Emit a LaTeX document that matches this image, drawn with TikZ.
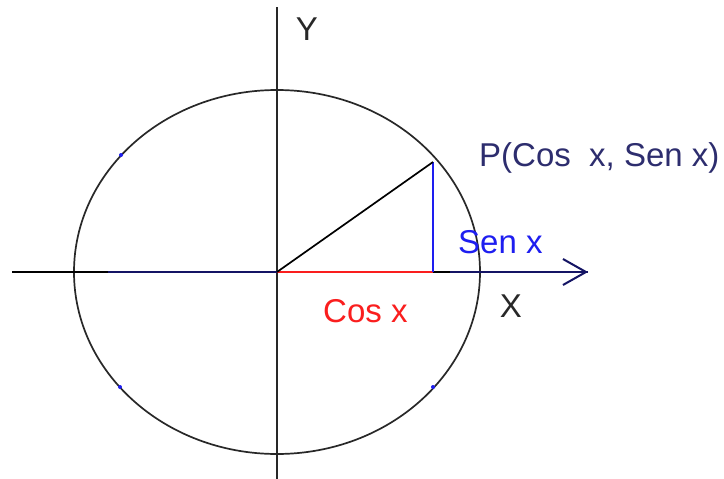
\documentclass[tikz,border=0pt]{standalone}
\usepackage{fontspec}
\setmainfont{Liberation Sans}
\usetikzlibrary{arrows.meta}
\definecolor{navy}{RGB}{20,20,100}
\definecolor{ptext}{RGB}{45,45,110}
\definecolor{axgray}{RGB}{40,40,40}
\definecolor{lblue}{RGB}{30,30,240}
\definecolor{lred}{RGB}{250,30,30}
\begin{document}
\begin{tikzpicture}[x=1pt,y=-1pt,
  axis/.style={line width=2pt,axgray},
  curve/.style={line width=1.7pt,axgray},
  lbl/.style={font=\fontsize{33}{36}\selectfont,inner sep=0pt,anchor=base west},
  mark dot/.style={fill=lblue,circle,inner sep=0pt,minimum size=4pt}]
\useasboundingbox (0,0) rectangle (724,479);
\fill[white] (0,0) rectangle (724,479);
% key points
\coordinate (O) at (277,272);
\coordinate (P) at (433,162);
\coordinate (F) at (433,272);
\coordinate (L) at (12,272);
\coordinate (Lm) at (108,272);
\coordinate (Rm) at (450,272);
\coordinate (R) at (588,272);
\coordinate (T) at (277,7);
\coordinate (B) at (277,479);
% ellipse
\draw[curve] (O) ellipse [x radius=203, y radius=182];
% vertical axis
\draw[axis] (T) -- (B);
% horizontal axis
\draw[axis,black] (L) -- (Lm);
\draw[axis,navy] (Lm) -- (O);
\draw[axis,black] (F) -- (Rm);
\draw[axis,navy] (Rm) -- (R);
\draw[line width=2pt,navy,{Straight Barb[length=23pt,width=26pt,line width=2pt]}-] (R) -- ++(-1,0);
% triangle
\draw[line width=2pt,lred] (O) -- (F);
\draw[line width=1.8pt,lblue] (F) -- (P);
\draw[line width=1.7pt,black] (O) -- (P);
% small marks on the ellipse
\node[mark dot] (m1) at (121,155) {};
\node[mark dot] (m2) at (120,387) {};
\node[mark dot] (m3) at (433,387) {};
% labels
\node[lbl,text=axgray,anchor=base] (ylab) at (307,41) {Y};
\node[lbl,text=axgray,anchor=base] (xlab) at (511,317) {X};
\node[lbl,text=ptext] (plab) at (479,166) {P(Cos\ \ x, Sen x)};
\node[lbl,text=lblue] (slab) at (458,253) {Sen x};
\node[lbl,text=lred] (clab) at (323,322) {Cos x};
\end{tikzpicture}
\end{document}
